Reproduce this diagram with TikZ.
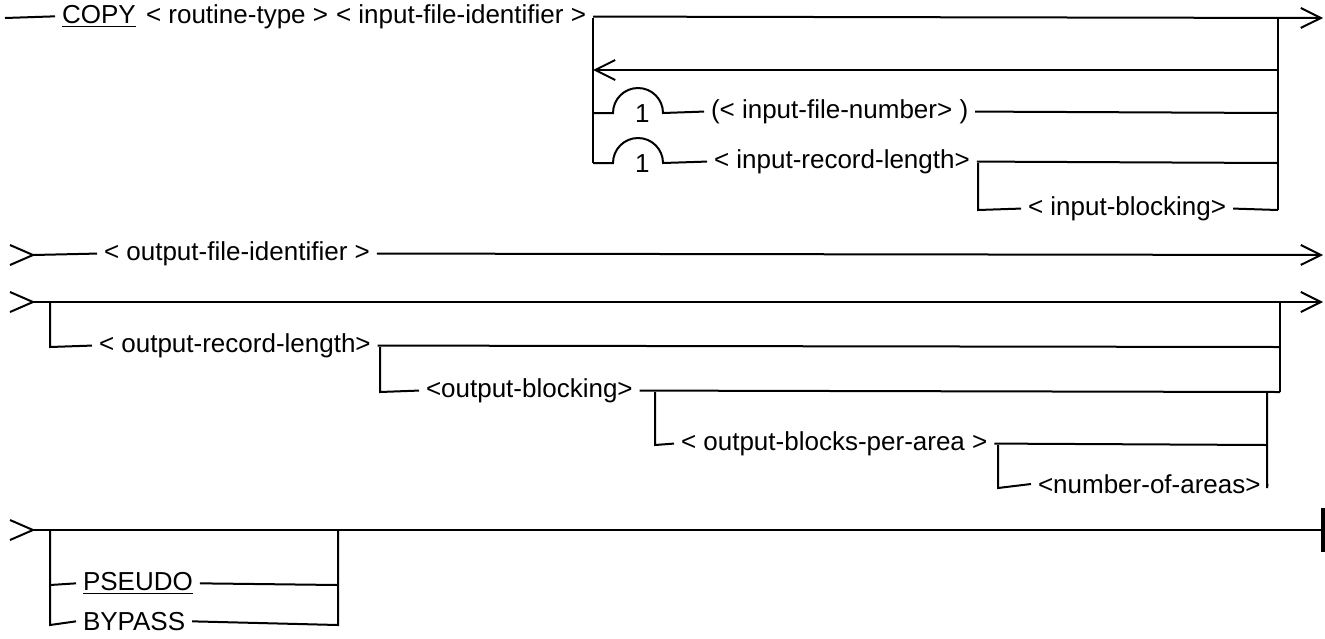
\documentclass[tikz,border=0pt]{standalone}
\usepackage{fontspec}
\setmainfont{Liberation Sans}
\usepackage{tikz}
\usetikzlibrary{arrows.meta}

\begin{document}
\begin{tikzpicture}[x=0.5pt, y=-0.5pt, line width=1pt,
    every node/.style={font=\fontsize{13}{15}\selectfont},
    syn/.style={anchor=mid west, inner xsep=3pt, inner ysep=1pt},
    go/.style={-{Straight Barb[length=10pt, width=10pt]}}]
  \useasboundingbox (0,0) rectangle (1325,638);
  % Row 1: COPY and the input file
  \coordinate (startA) at (5,18);
  \node[syn] (copy) at (55,18) {\underline{COPY}};
  \node[syn] (rtype) at (139,18) {< routine-type >};
  \node[syn] (ifid) at (329,18) {< input-file-identifier >};
  \coordinate (jAL) at (593,18);
  \coordinate (jAR) at (1278,18);
  \coordinate (endA) at (1323,18);
  \draw (startA) -- (copy.west);
  \draw[go] (ifid.east) -- (endA);
  \draw (jAL) -- (593,163);
  \draw (jAR) -- (1278,210);
  % loop back
  \draw[go] (1278,70) -- (593,70);
  % input file number
  \node[syn] (oneA) at (628,117) {1};
  \node[syn] (fnum) at (704,113) {(< input-file-number> )};
  \draw (593,113) -- (613,113) arc[start angle=180, end angle=0, radius=12.5pt] -- (fnum.west);
  \draw (fnum.east) -- (1278,113);
  % input record length
  \node[syn] (oneB) at (628,167) {1};
  \node[syn] (reclen) at (707,163) {< input-record-length>};
  \draw (593,163) -- (613,163) arc[start angle=180, end angle=0, radius=12.5pt] -- (reclen.west);
  \draw (reclen.east) -- (1278,163);
  \node[syn] (iblk) at (1021,210) {< input-blocking>};
  \draw (978,163) -- (978,210) -- (iblk.west);
  \draw (iblk.east) -- (1278,210);

  % Row 2: output file
  \coordinate (cB) at (33,255);
  \draw (cB) ++(-23,-10) -- (cB) -- ++(-23,10);
  \node[syn] (ofid) at (97,255) {< output-file-identifier >};
  \draw (cB) -- (ofid.west);
  \draw[go] (ofid.east) -- (1323,255);

  % Row 3: output record options
  \coordinate (cC) at (33,302);
  \draw (cC) ++(-23,-10) -- (cC) -- ++(-23,10);
  \draw[go] (cC) -- (1323,302);
  \node[syn] (orl) at (92,347) {< output-record-length>};
  \draw (50,302) -- (50,347) -- (orl.west);
  \draw (orl.east) -- (1280,347);
  \draw (1280,302) -- (1280,392);
  \node[syn] (oblk) at (419,392) {<output-blocking>};
  \draw (380,347) -- (380,392) -- (oblk.west);
  \draw (oblk.east) -- (1280,392);
  \node[syn] (bpa) at (674,445) {< output-blocks-per-area >};
  \draw (655,392) -- (655,445) -- (bpa.west);
  \draw (bpa.east) -- (1267,445);
  \node[syn] (noa) at (1031,488) {<number-of-areas>};
  \draw (998,445) -- (998,488) -- (noa.west);
  \draw (noa.east) -- (1267,488) -- (1267,392);

  % Row 4: PSEUDO / BYPASS
  \coordinate (cD) at (33,530);
  \draw (cD) ++(-23,-10) -- (cD) -- ++(-23,10);
  \draw (cD) -- (1323,530);
  \draw[line width=1.6pt] (1323,508) -- (1323,552);
  \node[syn] (pseudo) at (76,585) {\underline{PSEUDO}};
  \node[syn] (bypass) at (76,625) {BYPASS};
  \draw (50,530) -- (50,625) -- (bypass.west);
  \draw (50,585) -- (pseudo.west);
  \draw (pseudo.east) -- (338,585);
  \draw (bypass.east) -- (338,625) -- (338,530);
\end{tikzpicture}
\end{document}
